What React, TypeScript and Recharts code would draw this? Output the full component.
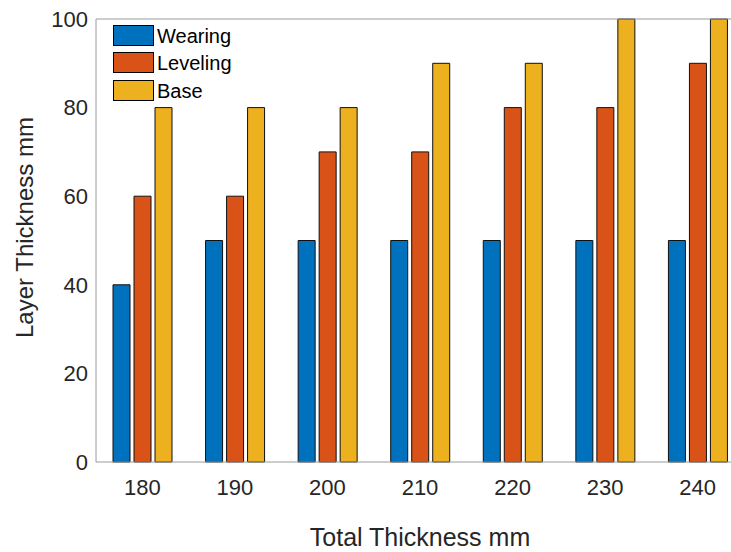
import React from "react";
import { BarChart, Bar, XAxis, YAxis, Legend } from "recharts";

// Layer thickness per total pavement thickness (MATLAB-style grouped bars).
const totals = ["180", "190", "200", "210", "220", "230", "240"];
const wearing = [40, 50, 50, 50, 50, 50, 50];
const leveling = [60, 60, 70, 70, 80, 80, 90];
const base = [80, 80, 80, 90, 90, 100, 100];
const yTicks = [0, 20, 40, 60, 80, 100];

const series = [
  { key: "Wearing", color: "#0072BD" },
  { key: "Leveling", color: "#D95319" },
  { key: "Base", color: "#EDB120" },
];

const data = totals.map((t, i) => ({ t, Wearing: wearing[i], Leveling: leveling[i], Base: base[i] }));

const FONT = "'Liberation Sans', Arial, Helvetica, sans-serif";
const AXIS = "#9a9a9a";
const TICK = "#4a4a4a";
const TEXT = "#262626";

// legend keeps the plotting order (Wearing first), recharts hands the payload back reversed here
function LegendBox({ payload }: any) {
  const items = series.map((s) => {
    const p = (payload || []).find((q: any) => q.value === s.key);
    return { value: s.key, color: p ? p.color : s.color };
  });
  return (
    <div style={{ fontFamily: FONT, fontSize: 20, color: "#000" }}>
      {items.map((p) => (
        <div key={p.value} style={{ display: "flex", alignItems: "center", height: 27.5 }}>
          <svg width={41} height={22} style={{ display: "block" }}>
            <rect x={0.5} y={0.5} width={40} height={20} fill={p.color} stroke="#000" strokeWidth={1} />
          </svg>
          <span style={{ marginLeft: 3, lineHeight: "22px" }}>{p.value}</span>
        </div>
      ))}
    </div>
  );
}

export default function App() {
  return (
    <div style={{ position: "absolute", left: 0, top: 0, width: 731, height: 552, overflow: "hidden", background: "#fff" }}>
      <BarChart
        width={760}
        height={552}
        data={data}
        margin={{ top: 19, right: 16, left: 0, bottom: 0 }}
        barSize={17}
        barGap={4}
        style={{ fontFamily: FONT }}
      >
        <XAxis
          xAxisId="x"
          dataKey="t"
          height={90}
          stroke={AXIS}
          tickLine={false}
          tickSize={0}
          tickMargin={17}
          tick={{ fill: TEXT, fontSize: 22 }}
          label={{ value: "Total Thickness mm", position: "insideBottom", offset: 6, fill: TEXT, fontSize: 25 }}
        />
        <XAxis xAxisId="xin" dataKey="t" mirror axisLine={false} tick={false} tickLine={{ stroke: TICK }} tickSize={6} height={10} />
        <XAxis xAxisId="top" dataKey="t" orientation="top" mirror stroke={AXIS} tick={false} tickLine={{ stroke: TICK }} tickSize={6} height={10} />
        <YAxis
          yAxisId="y"
          width={96}
          domain={[0, 100]}
          ticks={yTicks}
          stroke={AXIS}
          tickLine={false}
          tickSize={0}
          tickMargin={8}
          tick={{ fill: TEXT, fontSize: 22 }}
          label={{ value: "Layer Thickness mm", angle: -90, position: "center", dx: -24, dy: -13, fill: TEXT, fontSize: 24 }}
        />
        <YAxis yAxisId="yin" domain={[0, 100]} ticks={yTicks} mirror axisLine={false} tick={false} tickLine={{ stroke: TICK }} tickSize={6} width={10} />
        <Legend
          layout="vertical"
          align="center"
          verticalAlign="middle"
          content={<LegendBox />}
          wrapperStyle={{ top: 22, left: 113, width: 140, height: 84 }}
        />
        {series.map((s) => (
          <Bar key={s.key} xAxisId="x" yAxisId="y" dataKey={s.key} name={s.key} fill={s.color} stroke="#111" strokeWidth={1} isAnimationActive={false} />
        ))}
      </BarChart>
    </div>
  );
}
